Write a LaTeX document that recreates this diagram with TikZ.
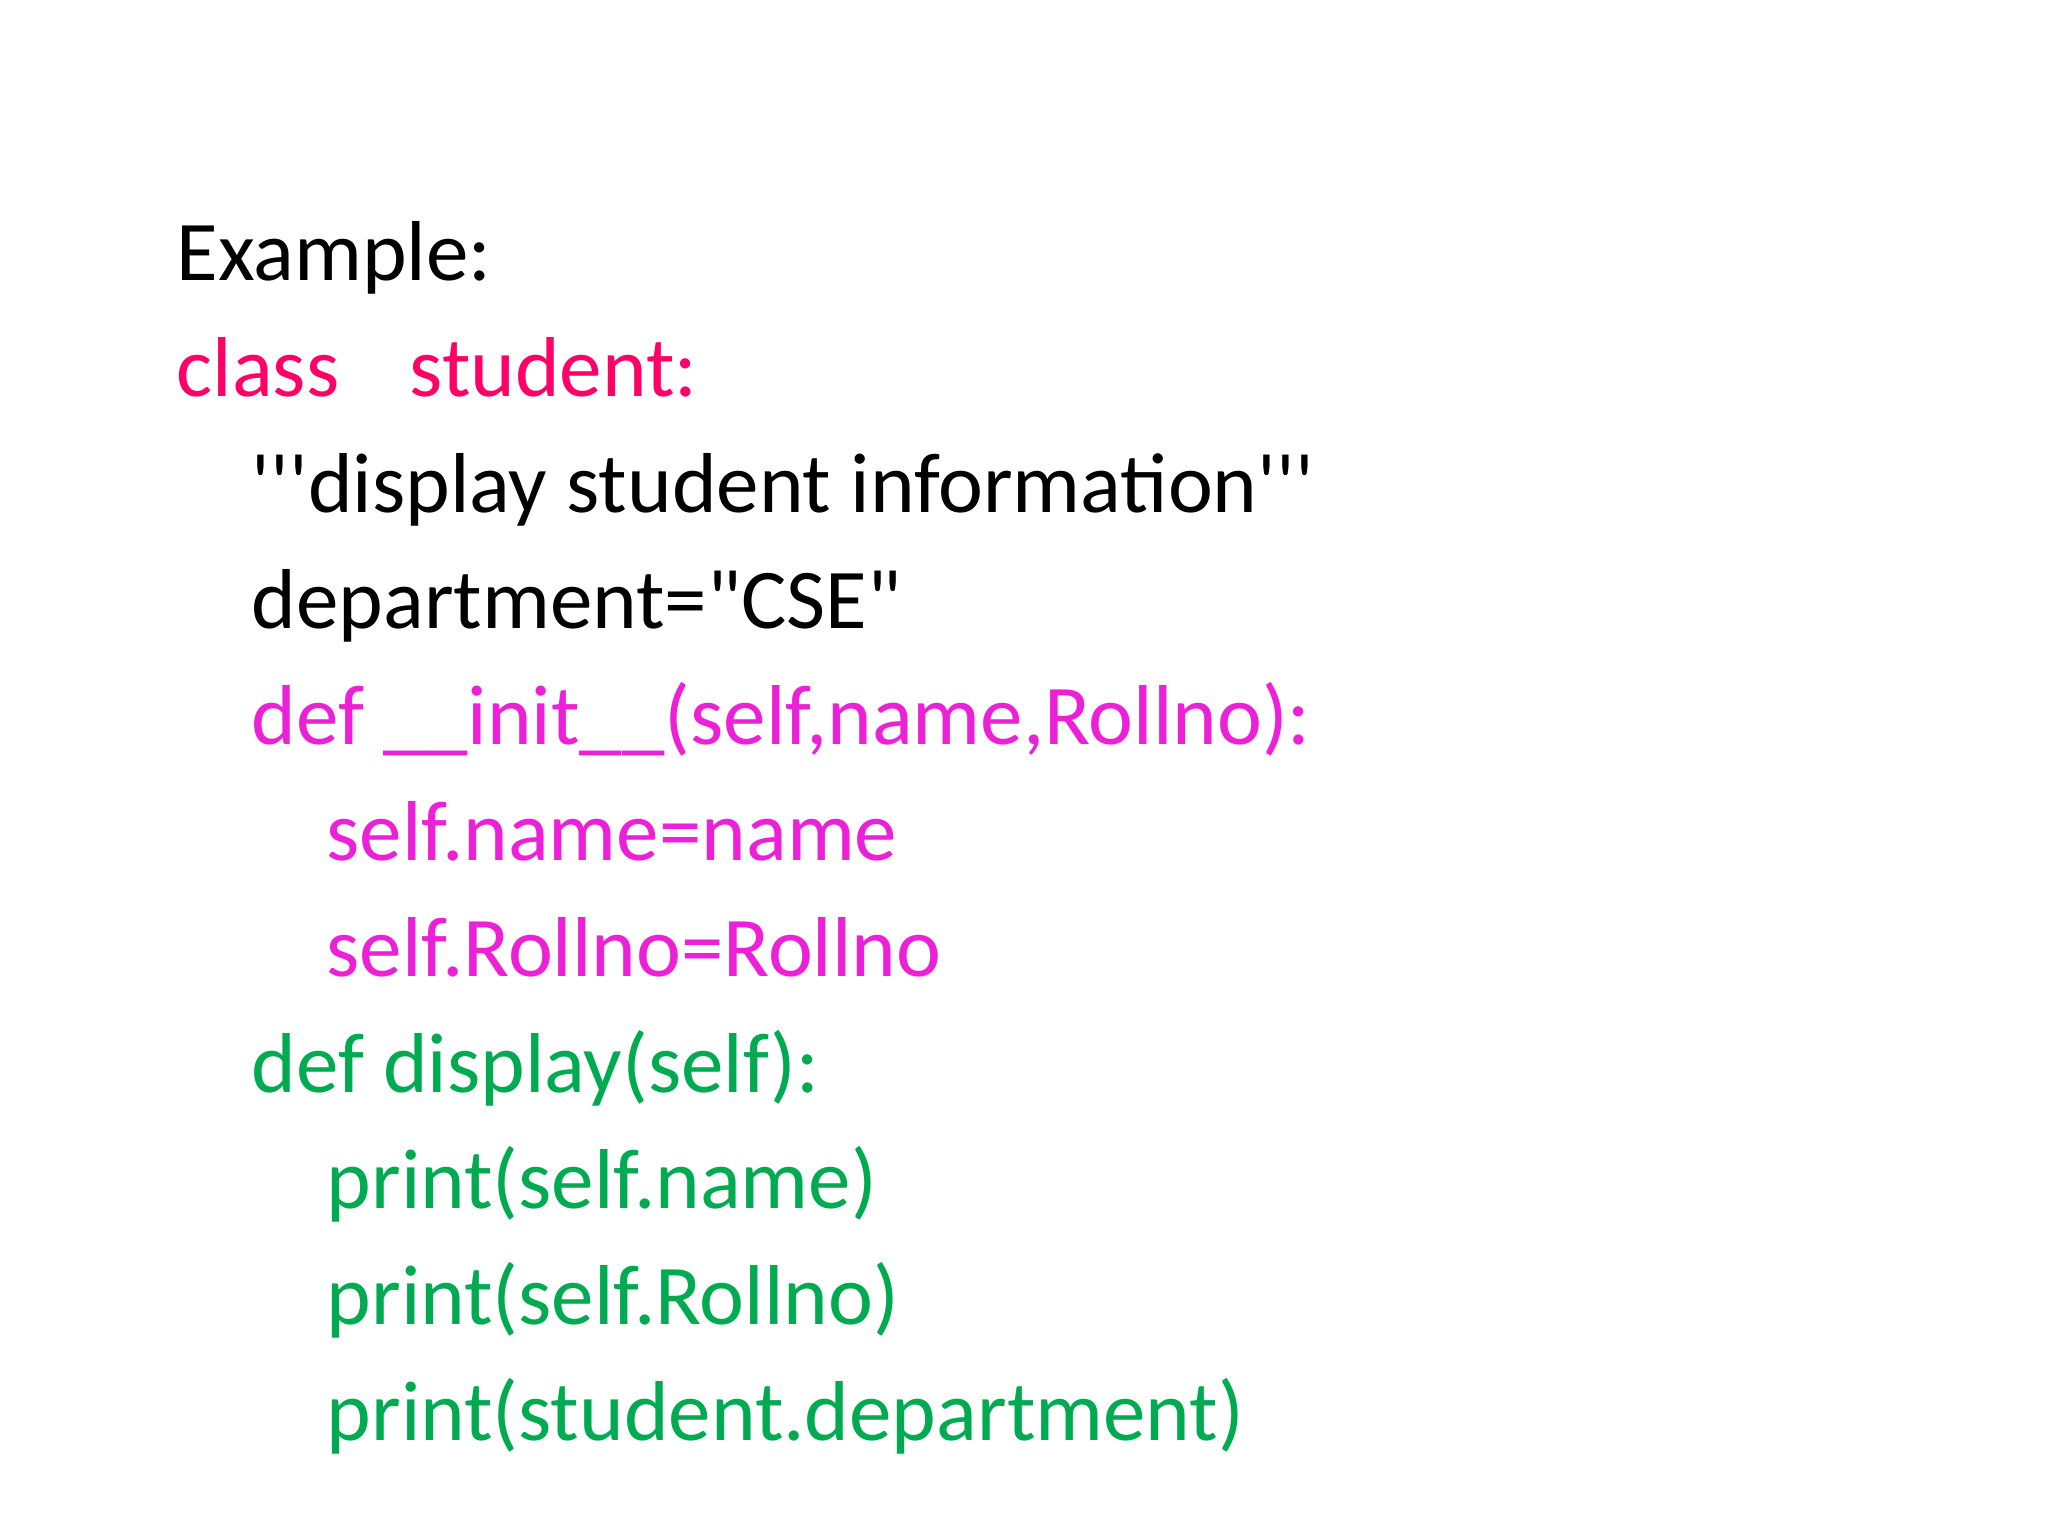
\documentclass[tikz,border=0pt]{standalone}
\usepackage{fontspec}
\setmainfont{Carlito}[Ligatures=TeXOff]
\definecolor{kwred}{RGB}{255,0,102}
\definecolor{initmag}{RGB}{236,32,214}
\definecolor{dispgreen}{RGB}{0,170,80}
\tikzset{codeline/.style={anchor=base west, inner sep=0pt, font=\fontsize{24.2}{29}\selectfont}}
\begin{document}
\begin{tikzpicture}
            \useasboundingbox (0,0) rectangle (20.48,15.36);
            \node[codeline] (title) at (1.76,12.55) {Example:};
            \node[codeline, kwred] (cls) at (1.76,11.39) {class};
            \node[codeline, kwred] (clsname) at (4.09,11.39) {student:};
            \node[codeline] (doc) at (2.51,10.23) {'''display student information'''};
            \node[codeline] (dept) at (2.51,9.07) {department="CSE"};
            
            \node[codeline, initmag] (init) at (2.51,7.91) {def \_\_init\_\_(self,name,Rollno):};
            \node[codeline, initmag] (setname) at (3.26,6.75) {self.name=name};
            \node[codeline, initmag] (setroll) at (3.26,5.59) {self.Rollno=Rollno};
            
            \node[codeline, dispgreen] (disp) at (2.51,4.43) {def display(self):};
            \node[codeline, dispgreen] (prname) at (3.26,3.27) {print(self.name)};
            \node[codeline, dispgreen] (prroll) at (3.26,2.11) {print(self.Rollno)};
            \node[codeline, dispgreen] (prdept) at (3.26,0.95) {print(student.department)};
        \end{tikzpicture}
\end{document}
